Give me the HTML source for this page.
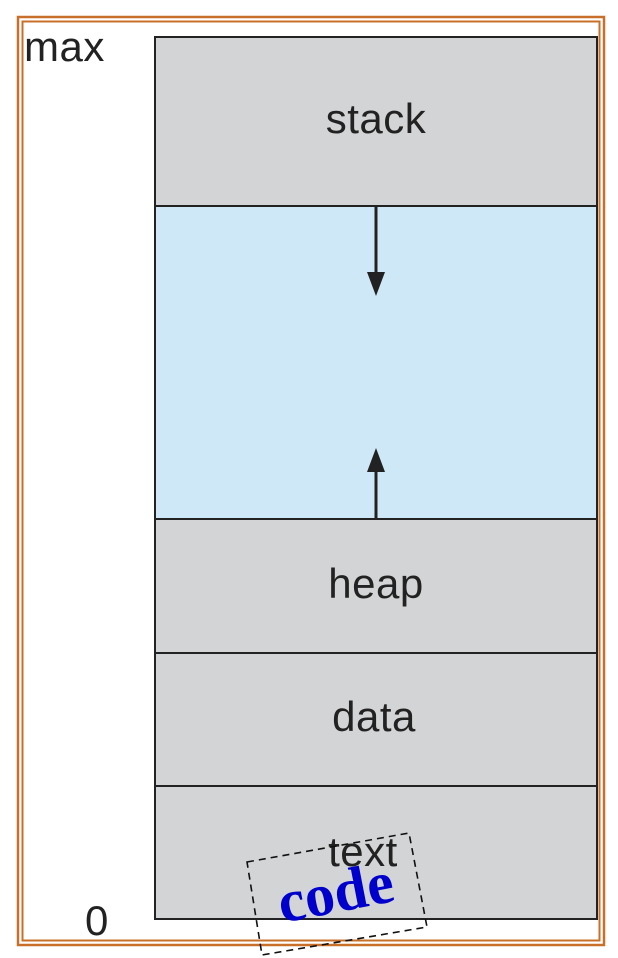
<!DOCTYPE html>
<html><head><style>
body{margin:0;background:#fff;width:618px;height:958px;overflow:hidden}
</style></head><body>
<svg width="618" height="958" viewBox="0 0 618 958" xmlns="http://www.w3.org/2000/svg" style="position:absolute;left:0;top:0">
<rect x="18" y="17" width="586" height="928" fill="none" stroke="#c8702a" stroke-width="2.5"/>
<rect x="22.5" y="21.5" width="577" height="919" fill="none" stroke="#c8702a" stroke-width="2"/>
<rect x="155" y="37" width="442" height="169" fill="#d3d4d5" stroke="#222" stroke-width="2"/>
<rect x="155" y="206" width="442" height="313" fill="#cfe8f7" stroke="#222" stroke-width="2"/>
<rect x="155" y="519" width="442" height="134" fill="#d3d4d5" stroke="#222" stroke-width="2"/>
<rect x="155" y="653" width="442" height="133" fill="#d3d4d5" stroke="#222" stroke-width="2"/>
<rect x="155" y="786" width="442" height="133" fill="#d3d4d5" stroke="#222" stroke-width="2"/>
<line x1="376" y1="207" x2="376" y2="280" stroke="#222" stroke-width="3"/>
<polygon points="367,272 385,272 376,296" fill="#222"/>
<line x1="376" y1="518" x2="376" y2="465" stroke="#222" stroke-width="3"/>
<polygon points="367,472 385,472 376,448" fill="#222"/>
<g font-family="Liberation Sans, sans-serif" font-size="42" fill="#222" text-anchor="middle" letter-spacing="0.5">
<text x="376" y="133">stack</text>
<text x="376" y="598">heap</text>
<text x="374" y="731">data</text>
<text x="363" y="866">text</text>
</g>
<text x="24" y="61" font-family="Liberation Sans, sans-serif" font-size="42" fill="#222" letter-spacing="0.5">max</text>
<text x="85" y="935" font-family="Liberation Sans, sans-serif" font-size="42" fill="#222">0</text>
<polygon points="247,862 409,833 427,927 262,955" fill="none" stroke="#111" stroke-width="1.6" stroke-dasharray="7,5"/>
<text x="337" y="912" transform="rotate(-11 337 900)" font-family="Liberation Serif, serif" font-weight="bold" font-size="60" fill="#0000cc" text-anchor="middle">code</text>
</svg>
</body></html>
